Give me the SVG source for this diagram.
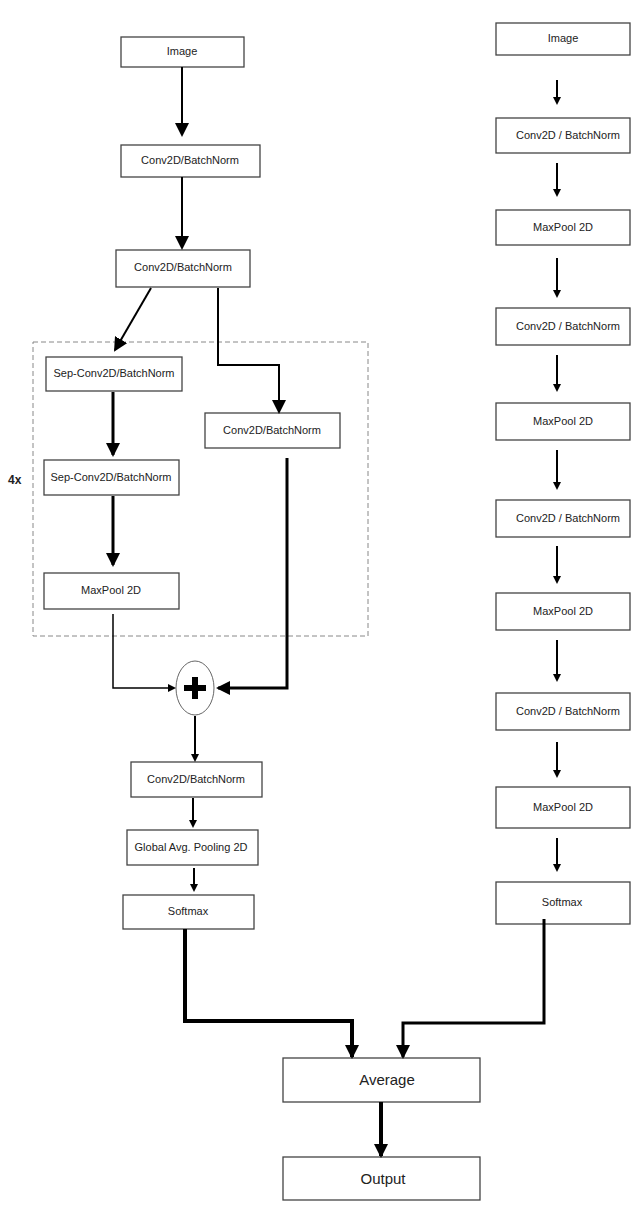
<svg xmlns="http://www.w3.org/2000/svg" width="640" height="1206" viewBox="0 0 640 1206">
<style>
.b{fill:#fff;stroke:#444;stroke-width:1.3}
.t{font-family:"Liberation Sans",Arial,sans-serif;font-size:11px;fill:#222;text-anchor:middle;dominant-baseline:middle}
.T{font-size:15px}
.c{fill:none;stroke:#000;stroke-width:2}
.k{fill:none;stroke:#000;stroke-width:4}
</style>
<defs>
<marker id="a" markerWidth="8" markerHeight="8" refX="6" refY="4" orient="auto" markerUnits="userSpaceOnUse" viewBox="0 0 8 8"><path d="M0,0L8,4L0,8z"/></marker>
<marker id="A" markerWidth="14" markerHeight="14" refX="12" refY="7" orient="auto" markerUnits="userSpaceOnUse" viewBox="0 0 14 14"><path d="M0,0L14,7L0,14z"/></marker>
</defs>
<rect x="33" y="342" width="335" height="294" fill="none" stroke="#888" stroke-dasharray="5,3"/>
<text class="t" x="8" y="481" style="font-weight:bold;font-size:12px;text-anchor:start">4x</text>
<g id="l1"><rect class="b" x="121" y="37" width="123" height="30"/><text class="t" x="182" y="52">Image</text></g>
<g id="l2"><rect class="b" x="121" y="145" width="139" height="32"/><text class="t" x="190" y="161">Conv2D/BatchNorm</text></g>
<g id="l3"><rect class="b" x="116" y="250" width="134" height="37"/><text class="t" x="183" y="268">Conv2D/BatchNorm</text></g>
<g id="l4"><rect class="b" x="46" y="357" width="136" height="34"/><text class="t" x="114" y="374">Sep-Conv2D/BatchNorm</text></g>
<g id="l5"><rect class="b" x="44" y="460" width="135" height="35"/><text class="t" x="111" y="478">Sep-Conv2D/BatchNorm</text></g>
<g id="l6"><rect class="b" x="44" y="573" width="135" height="36"/><text class="t" x="111" y="591">MaxPool 2D</text></g>
<g id="l7"><rect class="b" x="205" y="413" width="135" height="35"/><text class="t" x="272" y="431">Conv2D/BatchNorm</text></g>
<g id="add"><ellipse cx="195" cy="688" rx="19" ry="27" fill="#fff" stroke="#666"/><path d="M195,677V699M184,688H206" stroke="#000" stroke-width="6"/></g>
<g id="l8"><rect class="b" x="131" y="762" width="131" height="35"/><text class="t" x="196" y="780">Conv2D/BatchNorm</text></g>
<g id="l9"><rect class="b" x="127" y="830" width="131" height="35"/><text class="t" x="191" y="848">Global Avg. Pooling 2D</text></g>
<g id="l10"><rect class="b" x="123" y="895" width="131" height="34"/><text class="t" x="188" y="912">Softmax</text></g>
<g id="r1"><rect class="b" x="496" y="23" width="134" height="32"/><text class="t" x="563" y="39">Image</text></g>
<g id="r2"><rect class="b" x="496" y="118" width="134" height="35"/><text class="t" x="568" y="136">Conv2D / BatchNorm</text></g>
<g id="r3"><rect class="b" x="496" y="210" width="134" height="35"/><text class="t" x="563" y="228">MaxPool 2D</text></g>
<g id="r4"><rect class="b" x="496" y="308" width="134" height="37"/><text class="t" x="568" y="327">Conv2D / BatchNorm</text></g>
<g id="r5"><rect class="b" x="496" y="403" width="134" height="37"/><text class="t" x="563" y="422">MaxPool 2D</text></g>
<g id="r6"><rect class="b" x="496" y="500" width="134" height="37"/><text class="t" x="568" y="519">Conv2D / BatchNorm</text></g>
<g id="r7"><rect class="b" x="496" y="593" width="134" height="37"/><text class="t" x="563" y="612">MaxPool 2D</text></g>
<g id="r8"><rect class="b" x="496" y="693" width="134" height="37"/><text class="t" x="568" y="712">Conv2D / BatchNorm</text></g>
<g id="r9"><rect class="b" x="496" y="787" width="134" height="41"/><text class="t" x="563" y="808">MaxPool 2D</text></g>
<g id="r10"><rect class="b" x="496" y="882" width="134" height="42"/><text class="t" x="562" y="903">Softmax</text></g>
<g id="avg"><rect class="b" x="283" y="1058" width="197" height="44"/><text class="t T" x="387" y="1081">Average</text></g>
<g id="out"><rect class="b" x="283" y="1157" width="197" height="43"/><text class="t T" x="383" y="1180">Output</text></g>
<g id="connectors">
<path class="c" d="M182,67V135" marker-end="url(#A)"/>
<path class="c" d="M182,177V248" marker-end="url(#A)"/>
<path class="c" d="M151,288L115,350" marker-end="url(#A)"/>
<path class="c" d="M218,288V365H279V412" marker-end="url(#A)"/>
<path class="k" d="M113,392V455" style="stroke-width:3" marker-end="url(#A)"/>
<path class="k" d="M113,496V565" style="stroke-width:3" marker-end="url(#A)"/>
<path class="c" d="M113,614V688H174" style="stroke-width:1.5" marker-end="url(#a)"/>
<path class="c" d="M287,458V688H218" style="stroke-width:3" marker-end="url(#A)"/>
<path class="c" d="M195,716V760" marker-end="url(#a)"/>
<path class="c" d="M193,798V826" marker-end="url(#a)"/>
<path class="c" d="M194,868V890" marker-end="url(#a)"/>
<path class="k" d="M185,929V1021H352V1057" marker-end="url(#A)"/>
<path class="k" d="M544,919V1023H403V1057" style="stroke-width:3" marker-end="url(#A)"/>
<path class="k" d="M381,1102V1156" marker-end="url(#A)"/>
<path class="c" d="M557,80V103" marker-end="url(#a)"/>
<path class="c" d="M557,163V195" marker-end="url(#a)"/>
<path class="c" d="M557,258V296" marker-end="url(#a)"/>
<path class="c" d="M557,355V390" marker-end="url(#a)"/>
<path class="c" d="M557,450V488" marker-end="url(#a)"/>
<path class="c" d="M557,546V582" marker-end="url(#a)"/>
<path class="c" d="M557,640V680" marker-end="url(#a)"/>
<path class="c" d="M557,742V776" marker-end="url(#a)"/>
<path class="c" d="M557,838V870" marker-end="url(#a)"/>
</g>
</svg>
